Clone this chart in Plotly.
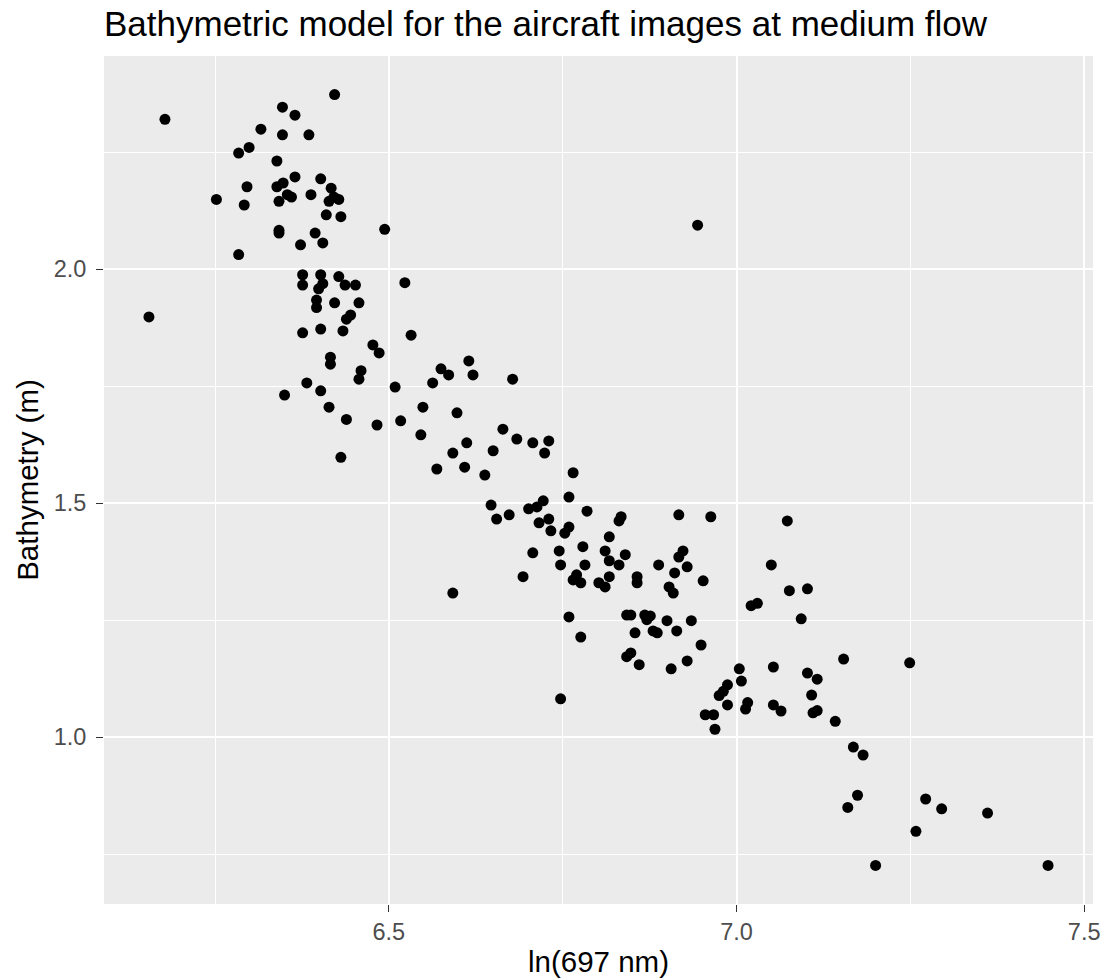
import plotly.graph_objects as go

x_ln697 = [
    6.422, 6.347, 6.365, 6.178, 6.316, 6.347, 6.385, 6.299, 6.284, 6.339,
    6.365, 6.402, 6.296, 6.339, 6.348, 6.417, 6.252, 6.292, 6.342, 6.354,
    6.360, 6.388, 6.414, 6.421, 6.428, 6.410, 6.431, 6.342, 6.342, 6.394,
    6.494, 6.405, 6.373, 6.284, 6.376, 6.376, 6.402, 6.405, 6.399, 6.428,
    6.437, 6.452, 6.523, 6.155, 6.396, 6.396, 6.422, 6.457, 6.439, 6.445,
    6.376, 6.402, 6.434, 6.532, 6.477, 6.486, 6.416, 6.416, 6.460, 6.457,
    6.382, 6.402, 6.350, 6.509, 6.414, 6.439, 6.483, 6.517, 6.431, 6.615,
    6.575, 6.586, 6.621, 6.678, 6.563, 6.549, 6.598, 6.546, 6.664, 6.684,
    6.612, 6.707, 6.730, 6.592, 6.650, 6.724, 6.569, 6.609, 6.638, 6.765,
    6.759, 6.647, 6.655, 6.673, 6.701, 6.713, 6.722, 6.716, 6.730, 6.733,
    6.753, 6.759, 6.785, 6.834, 6.831, 6.817, 6.917, 6.963, 6.707, 6.745,
    6.779, 6.811, 6.840, 6.817, 6.747, 6.782, 6.831, 6.923, 6.917, 6.888,
    6.929, 6.911, 6.693, 6.817, 6.770, 6.765, 6.776, 6.802, 6.811, 6.857,
    6.857, 6.952, 6.903, 6.909, 6.592, 6.759, 6.842, 6.848, 6.868, 6.876,
    6.871, 6.900, 6.935, 6.854, 6.880, 6.886, 6.914, 6.949, 6.776, 6.842,
    6.848, 6.860, 6.906, 6.929, 6.747, 7.073, 7.050, 7.076, 7.102, 7.021,
    7.030, 7.093, 7.154, 7.249, 7.004, 7.053, 7.102, 7.116, 7.007, 6.987,
    6.981, 6.975, 7.108, 6.987, 7.016, 7.013, 7.053, 7.064, 7.116, 7.110,
    6.955, 6.967, 6.969, 7.142, 7.168, 7.182, 7.174, 7.160, 7.272, 7.295,
    7.361, 7.258, 7.200, 7.448, 6.944,
]

bathymetry_m = [
    2.373, 2.346, 2.329, 2.320, 2.299, 2.287, 2.287, 2.260, 2.248, 2.231,
    2.197, 2.193, 2.176, 2.176, 2.184, 2.173, 2.149, 2.137, 2.145, 2.159,
    2.154, 2.159, 2.145, 2.154, 2.149, 2.116, 2.112, 2.083, 2.077, 2.077,
    2.085, 2.056, 2.052, 2.031, 1.988, 1.966, 1.988, 1.969, 1.958, 1.984,
    1.966, 1.966, 1.971, 1.898, 1.934, 1.918, 1.928, 1.928, 1.893, 1.902,
    1.864, 1.872, 1.868, 1.859, 1.838, 1.821, 1.812, 1.797, 1.783, 1.765,
    1.757, 1.740, 1.731, 1.748, 1.705, 1.679, 1.667, 1.676, 1.598, 1.804,
    1.787, 1.774, 1.774, 1.765, 1.757, 1.705, 1.693, 1.646, 1.658, 1.637,
    1.629, 1.629, 1.633, 1.607, 1.612, 1.607, 1.573, 1.577, 1.560, 1.565,
    1.513, 1.496, 1.466, 1.475, 1.488, 1.492, 1.505, 1.458, 1.466, 1.441,
    1.436, 1.449, 1.483, 1.471, 1.462, 1.428, 1.475, 1.471, 1.394, 1.398,
    1.407, 1.398, 1.390, 1.377, 1.368, 1.368, 1.368, 1.398, 1.385, 1.368,
    1.364, 1.351, 1.343, 1.343, 1.347, 1.336, 1.330, 1.330, 1.321, 1.343,
    1.330, 1.334, 1.321, 1.308, 1.308, 1.257, 1.261, 1.261, 1.261, 1.259,
    1.251, 1.249, 1.249, 1.223, 1.227, 1.223, 1.227, 1.197, 1.214, 1.172,
    1.180, 1.155, 1.146, 1.163, 1.082, 1.462, 1.368, 1.313, 1.317, 1.281,
    1.286, 1.253, 1.167, 1.159, 1.146, 1.150, 1.137, 1.124, 1.120, 1.112,
    1.098, 1.089, 1.090, 1.069, 1.074, 1.060, 1.069, 1.056, 1.057, 1.052,
    1.048, 1.048, 1.017, 1.034, 0.979, 0.962, 0.876, 0.850, 0.868, 0.847,
    0.838, 0.799, 0.726, 0.726, 2.094,
]

x_ticks = [6.5, 7.0, 7.5]
x_tick_labels = ["6.5", "7.0", "7.5"]
y_ticks = [1.0, 1.5, 2.0]
y_tick_labels = ["1.0", "1.5", "2.0"]

title_text = "Bathymetric model for the aircraft images at medium flow"
x_title = "ln(697 nm)"
y_title = "Bathymetry (m)"


def expanded(vals, frac=0.05):
    lo, hi = min(vals), max(vals)
    pad = (hi - lo) * frac
    return [lo - pad, hi + pad]


FONT = "Liberation Sans, Arial, sans-serif"
W, H = 1115, 978

fig = go.Figure(
    go.Scatter(
        x=x_ln697,
        y=bathymetry_m,
        mode="markers",
        marker=dict(color="black", size=11, line=dict(width=0)),
        hoverinfo="x+y",
    )
)

axis_common = dict(
    showgrid=True,
    gridcolor="white",
    gridwidth=2.1,
    zeroline=False,
    showline=False,
    ticks="outside",
    ticklen=7,
    tickwidth=1.1,
    tickcolor="#333333",
    automargin=False,
    tickfont=dict(family=FONT, size=23.5, color="#4D4D4D"),
)

fig.update_layout(
    width=W,
    height=H,
    margin=dict(l=104, r=22, t=56, b=74),
    paper_bgcolor="white",
    plot_bgcolor="#EBEBEB",
    showlegend=False,
    font=dict(family=FONT, color="black"),
    title=dict(
        text=title_text,
        font=dict(family=FONT, size=35, color="black"),
        x=104 / W,
        xanchor="left",
        xref="container",
        y=1 - 24 / H,
        yanchor="middle",
        yref="container",
    ),
    xaxis=dict(
        axis_common,
        range=expanded(x_ln697),
        tickvals=x_ticks,
        ticktext=x_tick_labels,
        minor=dict(dtick=0.25, tick0=0, showgrid=True, gridcolor="white", gridwidth=1.05, ticks=""),
        title=dict(text=x_title, font=dict(family=FONT, size=29.5, color="black"), standoff=8),
    ),
    yaxis=dict(
        axis_common,
        range=expanded(bathymetry_m),
        tickvals=y_ticks,
        ticktext=y_tick_labels,
        ticklabelstandoff=5,
        minor=dict(dtick=0.25, tick0=0, showgrid=True, gridcolor="white", gridwidth=1.05, ticks=""),
        title=dict(text=y_title, font=dict(family=FONT, size=29.5, color="black"), standoff=6),
    ),
)

# Remove the browser's default 8px body margin so the figure fills the window,
# and hide the mode bar so it never covers the title.
fig.write_html(
    "out.html",
    config={"displayModeBar": False},
    post_script="document.body.style.margin='0';document.body.style.padding='0';",
)
